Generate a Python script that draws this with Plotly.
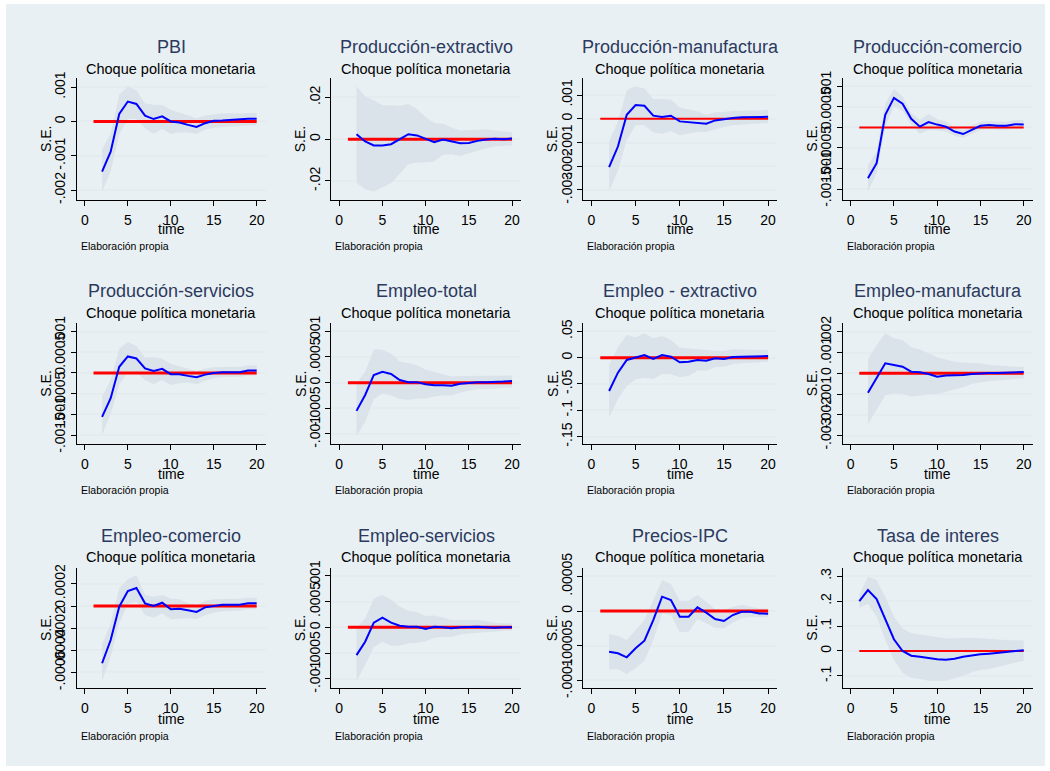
import plotly.graph_objects as go

W, H = 1050, 771

# ---------------------------------------------------------------- data
titles = ["PBI", "Producción-extractivo", "Producción-manufactura", "Producción-comercio",
          "Producción-servicios", "Empleo-total", "Empleo - extractivo", "Empleo-manufactura",
          "Empleo-comercio", "Empleo-servicios", "Precios-IPC", "Tasa de interes"]
subtitle = "Choque política monetaria"
note = "Elaboración propia"
periods = list(range(2, 21))
periods_tasa = list(range(1, 21))
x_ticks = [0, 5, 10, 15, 20]

irf_pbi = [-0.00146, -0.00088, 0.00022, 0.00058, 0.00051, 0.00017, 0.00007, 0.00015, 0.0, -0.00003,
           -0.0001, -0.00016, -0.00005, 0.00002, 0.00003, 0.00005, 0.00005, 0.00008, 0.00008]
hi_pbi = [-0.00081, -0.00034, 0.00078, 0.00102, 0.0009, 0.00052, 0.00049, 0.00048, 0.00034, 0.00026,
          0.00017, 0.00009, 0.00017, 0.00021, 0.00024, 0.00024, 0.00023, 0.00025, 0.00024]
lo_pbi = [-0.00205, -0.00146, -0.00039, 0.00008, 0.00007, -0.0002, -0.00036, -0.00022, -0.00036, -0.00032,
          -0.00032, -0.00036, -0.00024, -0.00018, -0.00016, -0.00015, -0.00013, -0.00011, -0.00011]

irf_pext = [0.0024, -0.0011, -0.003, -0.003, -0.0024, 0.0, 0.0024, 0.0018, 0.0003, -0.0014,
            -0.0002, -0.001, -0.0019, -0.0018, -0.0008, -0.0002, 0.0002, 0.0, 0.0003]
hi_pext = [0.0253, 0.0205, 0.0186, 0.0163, 0.0163, 0.016, 0.0168, 0.0144, 0.0106, 0.0077,
           0.0074, 0.0056, 0.0042, 0.0042, 0.0045, 0.0046, 0.0042, 0.0037, 0.0034]
lo_pext = [-0.0208, -0.024, -0.0251, -0.023, -0.0211, -0.0163, -0.012, -0.0112, -0.011, -0.0107,
           -0.0075, -0.0072, -0.008, -0.0067, -0.0054, -0.0043, -0.0035, -0.0032, -0.003]

irf_pman = [-0.00204, -0.00117, 0.00017, 0.00058, 0.00055, 0.00013, 0.00007, 0.00013, -0.00011, -0.00014,
            -0.00017, -0.00021, -0.00007, -0.00001, 0.00003, 0.00006, 0.00006, 0.00008, 0.00008]
hi_pman = [-0.00096, -0.00011, 0.0012, 0.00137, 0.00128, 0.00083, 0.00083, 0.0008, 0.00048, 0.00041,
           0.00031, 0.00017, 0.00027, 0.00028, 0.00034, 0.00034, 0.00034, 0.00035, 0.00038]
lo_pman = [-0.00307, -0.00218, -0.00089, -0.00027, -0.00027, -0.00058, -0.00063, -0.00052, -0.00069, -0.00061,
           -0.00055, -0.00056, -0.00046, -0.00035, -0.00027, -0.00024, -0.00023, -0.0002, -0.00018]

irf_pcom = [-0.00124, -0.00087, 0.00031, 0.00072, 0.00058, 0.00021, 0.00002, 0.00013, 0.00007, 0.00002,
            -0.0001, -0.00016, -0.00006, 0.00004, 0.00006, 0.00004, 0.00004, 0.00008, 0.00007]
hi_pcom = [-0.00091, -0.00059, 0.00059, 0.00094, 0.00076, 0.00035, 0.00019, 0.00033, 0.0002, 0.00015,
           0.0, -0.00007, 0.00004, 0.00014, 0.00015, 0.00014, 0.00014, 0.00018, 0.00018]
lo_pcom = [-0.00156, -0.00112, 0.00002, 0.00051, 0.00041, 0.00007, -0.00016, -0.00006, -0.00007, -0.0001,
           -0.0002, -0.00025, -0.00016, -0.00006, -0.00004, -0.00006, -0.00006, -0.00002, -0.00003]

irf_pser = [-0.00106, -0.00061, 0.00015, 0.0004, 0.00035, 0.00011, 0.00005, 0.0001, -0.00003, -0.00003,
            -0.00007, -0.0001, -0.00004, 0.0, 0.00002, 0.00002, 0.00002, 0.00006, 0.00006]
hi_pser = [-0.00057, -0.00017, 0.00059, 0.00075, 0.00065, 0.00038, 0.00038, 0.00035, 0.00022, 0.00017,
           0.00011, 0.00004, 0.00011, 0.00014, 0.00015, 0.00015, 0.00015, 0.00018, 0.00018]
lo_pser = [-0.0015, -0.00099, -0.00029, 0.00003, 0.00001, -0.00017, -0.00027, -0.00017, -0.00029, -0.00025,
           -0.00023, -0.00027, -0.00019, -0.00013, -0.0001, -0.0001, -0.00009, -0.00006, -0.00006]

irf_etot = [-0.00055, -0.00024, 0.00015, 0.00021, 0.00017, 0.00005, 0.00001, 0.00001, -0.00003, -0.00005,
            -0.00005, -0.00006, -0.00002, 0.0, 0.00001, 0.00001, 0.00001, 0.00002, 0.00003]
hi_etot = [-0.00001, 0.00021, 0.00065, 0.00064, 0.00057, 0.00041, 0.00038, 0.00034, 0.00025, 0.00021,
           0.00016, 0.00012, 0.00013, 0.00013, 0.00014, 0.00014, 0.00013, 0.00014, 0.00014]
lo_etot = [-0.00104, -0.00076, -0.00032, -0.00021, -0.00025, -0.00032, -0.00034, -0.00031, -0.00031, -0.00027,
           -0.00025, -0.00025, -0.00019, -0.00016, -0.00013, -0.00012, -0.00012, -0.0001, -0.0001]

irf_eext = [-0.0633, -0.0285, -0.0044, 0.0, 0.005, -0.0025, 0.005, 0.0019, -0.0089, -0.0076,
            -0.0044, -0.0057, -0.0013, -0.0025, 0.0013, 0.0019, 0.0019, 0.003, 0.003]
hi_eext = [-0.0139, 0.0196, 0.043, 0.0386, 0.0462, 0.0367, 0.0411, 0.0335, 0.019, 0.0171,
           0.0165, 0.0146, 0.0133, 0.0127, 0.0158, 0.0158, 0.0152, 0.0146, 0.0146]
lo_eext = [-0.114, -0.079, -0.054, -0.041, -0.038, -0.0405, -0.031, -0.0316, -0.0373, -0.0342,
           -0.0247, -0.0247, -0.0184, -0.0171, -0.012, -0.0108, -0.0095, -0.0082, -0.0076]

irf_eman = [-0.00093, -0.00022, 0.00048, 0.0004, 0.00032, 0.00008, 0.00005, -0.00003, -0.00016, -0.00011,
            -0.00011, -0.00008, -0.00003, 0.0, 0.00002, 0.00002, 0.00003, 0.00005, 0.00006]
hi_eman = [0.00067, 0.00136, 0.00192, 0.00168, 0.0016, 0.00125, 0.00115, 0.00096, 0.00077, 0.00067,
           0.00056, 0.00051, 0.00051, 0.00048, 0.0004, 0.00037, 0.00035, 0.00032, 0.00032]
lo_eman = [-0.00245, -0.00176, -0.00106, -0.00096, -0.00099, -0.00112, -0.00106, -0.00101, -0.00099, -0.00088,
           -0.00077, -0.00067, -0.00051, -0.00043, -0.00037, -0.00034, -0.00032, -0.00027, -0.00024]

irf_ecom = [-0.000517, -0.000307, -0.000006, 0.000135, 0.000162, 0.000024, 0.0, 0.00003, -0.00003, -0.000024,
            -0.000039, -0.000054, -0.000012, 0.0, 0.000012, 0.000012, 0.000012, 0.000024, 0.000024]
hi_ecom = [-0.000346, -0.000156, 0.00016, 0.000244, 0.000277, 0.0001, 0.000084, 0.0001, 0.000066, 0.00006,
           0.000024, 0.000006, 0.000048, 0.00006, 0.000063, 0.000063, 0.000066, 0.000075, 0.000075]
lo_ecom = [-0.000677, -0.000457, -0.000156, 0.000018, 0.000039, -0.000081, -0.000105, -0.000066, -0.00012, -0.000114,
           -0.000111, -0.000117, -0.000084, -0.00006, -0.000048, -0.000042, -0.000042, -0.00003, -0.00003]

irf_eser = [-0.00054, -0.00028, 0.00009, 0.00019, 0.00009, 0.00003, 0.00001, 0.00001, -0.00003, 0.00001,
            0.0, -0.00002, 0.0, 0.00001, 0.00001, 0.0, -0.00001, 0.0, 0.0]
hi_eser = [-0.00002, 0.00017, 0.00056, 0.00063, 0.00054, 0.0004, 0.00032, 0.0003, 0.00022, 0.00023,
           0.00019, 0.00014, 0.00014, 0.00014, 0.00014, 0.00012, 0.00009, 0.00008, 0.00008]
lo_eser = [-0.00104, -0.00073, -0.00038, -0.00028, -0.00036, -0.00036, -0.00031, -0.0003, -0.00027, -0.0002,
           -0.00019, -0.00019, -0.00014, -0.00012, -0.0001, -0.00009, -0.00008, -0.00007, -0.00006]

irf_ipc = [-0.0000587, -0.000061, -0.0000668, -0.0000538, -0.0000428, -0.000013, 0.0000207, 0.0000159, -0.0000082, -0.0000082,
           0.0000053, -0.0000024, -0.0000115, -0.0000144, -0.0000058, -0.000001, -0.000001, -0.0000034, -0.0000038]
hi_ipc = [-0.0000332, -0.000036, -0.0000418, -0.0000274, -0.000013, 0.0000159, 0.0000447, 0.000039, 0.0000149, 0.0000149,
          0.000023, 0.0000135, 0.0000024, 0.0000014, 0.0000063, 0.0000087, 0.0000063, 0.0000038, 0.0000034]
lo_ipc = [-0.0000841, -0.0000841, -0.0000909, -0.0000827, -0.0000716, -0.0000418, -0.0000034, -0.0000058, -0.0000308, -0.0000298,
          -0.000012, -0.0000178, -0.000024, -0.000025, -0.0000168, -0.0000106, -0.0000091, -0.0000091, -0.0000091]

irf_tasa = [0.2, 0.244, 0.208, 0.124, 0.047, 0.0, -0.0187, -0.0227, -0.028, -0.033,
            -0.0347, -0.0307, -0.0227, -0.0173, -0.0133, -0.0107, -0.008, -0.0053, -0.0027, 0.0027]
hi_tasa = [0.224, 0.297, 0.284, 0.217, 0.137, 0.091, 0.071, 0.067, 0.061, 0.055,
           0.051, 0.051, 0.053, 0.053, 0.051, 0.048, 0.047, 0.044, 0.043, 0.043]
lo_tasa = [0.173, 0.188, 0.137, 0.044, -0.036, -0.087, -0.107, -0.112, -0.119, -0.12,
           -0.119, -0.109, -0.099, -0.085, -0.076, -0.072, -0.063, -0.056, -0.047, -0.039]

y_tickvals = [
    [-0.002, -0.001, 0, 0.001],
    [-0.02, 0, 0.02],
    [-0.003, -0.002, -0.001, 0, 0.001],
    [-0.0015, -0.001, -0.0005, 0, 0.0005, 0.001],
    [-0.0015, -0.001, -0.0005, 0, 0.0005, 0.001],
    [-0.001, -0.0005, 0, 0.0005, 0.001],
    [-0.15, -0.1, -0.05, 0, 0.05],
    [-0.003, -0.002, -0.001, 0, 0.001, 0.002],
    [-0.0006, -0.0004, -0.0002, 0, 0.0002],
    [-0.001, -0.0005, 0, 0.0005, 0.001],
    [-0.0001, -0.00005, 0, 0.00005],
    [-0.1, 0, 0.1, 0.2, 0.3],
]
y_ticktext = [
    ["-.002", "-.001", "0", ".001"],
    ["-.02", "0", ".02"],
    ["-.003", "-.002", "-.001", "0", ".001"],
    ["-.0015", "-.001", "-.0005", "0", ".0005", ".001"],
    ["-.0015", "-.001", "-.0005", "0", ".0005", ".001"],
    ["-.001", "-.0005", "0", ".0005", ".001"],
    ["-.15", "-.1", "-.05", "0", ".05"],
    ["-.003", "-.002", "-.001", "0", ".001", ".002"],
    ["-.0006", "-.0004", "-.0002", "0", ".0002"],
    ["-.001", "-.0005", "0", ".0005", ".001"],
    ["-.0001", "-.00005", "0", ".00005"],
    ["-.1", "0", ".1", ".2", ".3"],
]

series = [
    (periods, irf_pbi, lo_pbi, hi_pbi),
    (periods, irf_pext, lo_pext, hi_pext),
    (periods, irf_pman, lo_pman, hi_pman),
    (periods, irf_pcom, lo_pcom, hi_pcom),
    (periods, irf_pser, lo_pser, hi_pser),
    (periods, irf_etot, lo_etot, hi_etot),
    (periods, irf_eext, lo_eext, hi_eext),
    (periods, irf_eman, lo_eman, hi_eman),
    (periods, irf_ecom, lo_ecom, hi_ecom),
    (periods, irf_eser, lo_eser, hi_eser),
    (periods, irf_ipc, lo_ipc, hi_ipc),
    (periods_tasa, irf_tasa, lo_tasa, hi_tasa),
]

# ---------------------------------------------------------------- layout geometry (pixels)
col_left = [77, 331.3, 583.3, 842.7]
col_right = [265.6, 521, 777.3, 1032.7]
row_top = [78, 323.3, 567.7]
row_bot = [200, 444, 688.3]
title_y = [47, 290.7, 536]
sub_y = [69, 313.3, 557.3]
xlab_y = [229, 473.7, 719.3]
note_y = [246, 490, 735.7]
y_ranges = [
    [-0.002288, 0.001266], [-0.02912, 0.0293], [-0.003423, 0.001718], [-0.001767, 0.001205],
    [-0.0017177, 0.0012016], [-0.001195, 0.001156], [-0.1639, 0.0652], [-0.003397, 0.002404],
    [-0.000743, 0.000346], [-0.001184, 0.001158], [-0.0001115, 0.0000625], [-0.1493, 0.3333],
]
x_range = [-0.92, 21.04]
red_width = [3, 3, 2, 2, 3, 3, 3, 3, 3, 3, 3, 2]

FONT = "Liberation Sans, Arial, sans-serif"
BG = "#E9F0F3"
BAND = "#DAE3EA"
GRID = "#E4ECF0"
TITLE_C = "#2B3A5E"


def px_x(p):
    return p / W


def px_y(p):
    return 1 - p / H


fig = go.Figure()
annotations = []

for i in range(12):
    r, c = divmod(i, 4)
    sfx = "" if i == 0 else str(i + 1)
    xa, ya = "x" + sfx, "y" + sfx
    xs, irf, lo, hi = series[i]

    fig.add_trace(go.Scatter(
        x=list(xs) + list(xs)[::-1], y=list(hi) + list(lo)[::-1],
        fill="toself", fillcolor=BAND, line=dict(width=0), mode="lines",
        hoverinfo="skip", xaxis=xa, yaxis=ya, showlegend=False))
    fig.add_trace(go.Scatter(
        x=[1, 20], y=[0, 0], mode="lines",
        line=dict(color="#FF0000", width=red_width[i]),
        xaxis=xa, yaxis=ya, showlegend=False))
    fig.add_trace(go.Scatter(
        x=xs, y=irf, mode="lines", line=dict(color="#0000FF", width=2),
        xaxis=xa, yaxis=ya, showlegend=False))

    x0, x1 = col_left[c], col_right[c]
    y0, y1 = row_top[r], row_bot[r]
    fig.update_layout(**{
        "xaxis" + sfx: dict(
            domain=[px_x(x0), px_x(x1)], range=x_range, anchor=ya, automargin=False,
            tickvals=x_ticks, ticks="outside", ticklen=5, tickwidth=1, tickcolor="#000",
            ticklabelstandoff=2,
            showline=True, linecolor="#000", linewidth=1.3, mirror=False,
            showgrid=False, zeroline=False, fixedrange=True,
            tickfont=dict(family=FONT, size=14, color="#000")),
        "yaxis" + sfx: dict(
            domain=[px_y(y1), px_y(y0)], range=y_ranges[i], anchor=xa, automargin=False,
            tickvals=y_tickvals[i], ticktext=y_ticktext[i], tickangle=-90,
            ticks="outside", ticklen=5, tickwidth=1, tickcolor="#000",
            showline=True, linecolor="#000", linewidth=1.3,
            showgrid=True, gridcolor=GRID, gridwidth=1.5, zeroline=False, fixedrange=True,
            tickfont=dict(family=FONT, size=14, color="#000")),
    })

    cx = px_x((x0 + x1) / 2)
    annotations += [
        dict(text=titles[i], x=cx, y=px_y(title_y[r]), xref="paper", yref="paper",
             showarrow=False, xanchor="center", yanchor="middle",
             font=dict(family=FONT, size=18, color=TITLE_C)),
        dict(text=subtitle, x=cx, y=px_y(sub_y[r]), xref="paper", yref="paper",
             showarrow=False, xanchor="center", yanchor="middle",
             font=dict(family=FONT, size=14.5, color="#000")),
        dict(text="time", x=cx, y=px_y(xlab_y[r]), xref="paper", yref="paper",
             showarrow=False, xanchor="center", yanchor="middle",
             font=dict(family=FONT, size=14, color="#000")),
        dict(text=note, x=px_x(x0 + 2), y=px_y(note_y[r]), xref="paper", yref="paper",
             showarrow=False, xanchor="left", yanchor="middle",
             font=dict(family=FONT, size=10.5, color="#000")),
        dict(text="S.E.", x=px_x(x0 - 31), y=px_y((y0 + y1) / 2), xref="paper", yref="paper",
             showarrow=False, xanchor="center", yanchor="middle", textangle=-90,
             font=dict(family=FONT, size=14, color="#000")),
    ]

fig.update_layout(
    width=W, height=H, margin=dict(l=0, r=0, t=0, b=0, autoexpand=False),
    paper_bgcolor="white", plot_bgcolor="white",
    annotations=annotations,
    shapes=[dict(type="rect", xref="paper", yref="paper", layer="below",
                 x0=px_x(6), x1=px_x(1045), y0=px_y(766), y1=px_y(4),
                 fillcolor=BG, line=dict(width=0))],
)

fig.write_html("out.html")
